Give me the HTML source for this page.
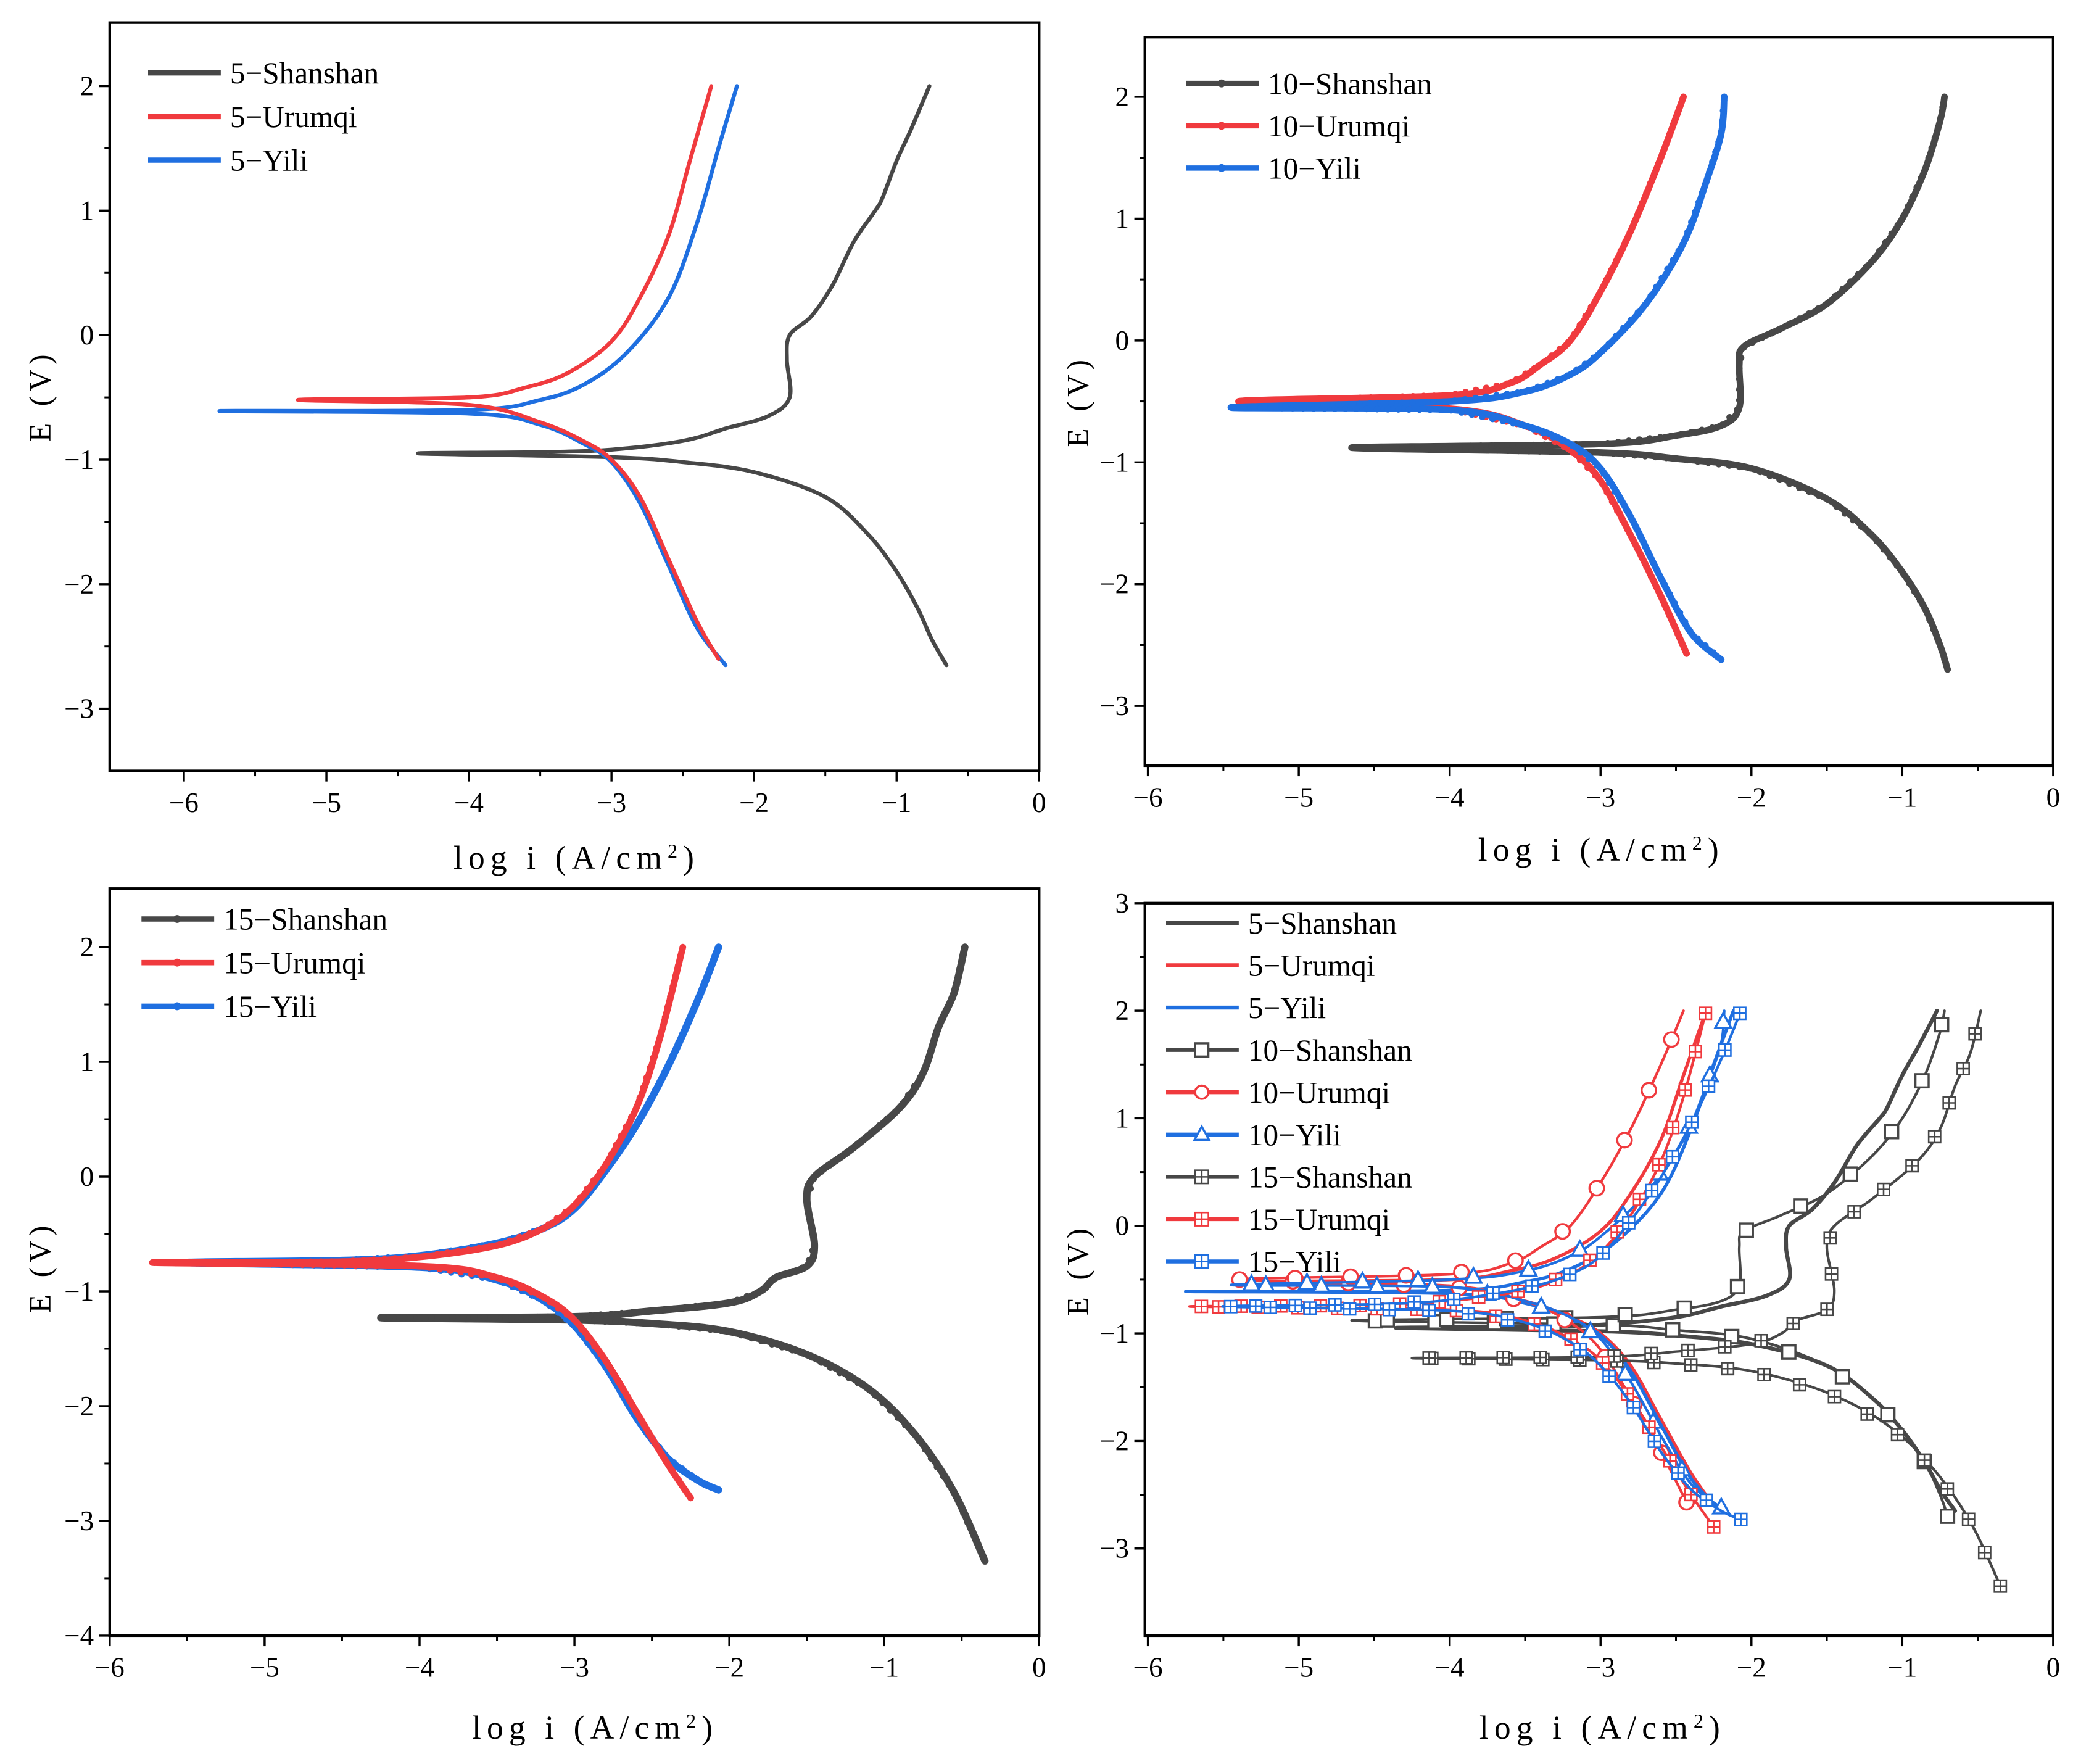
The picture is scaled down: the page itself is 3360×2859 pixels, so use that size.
<!DOCTYPE html>
<html><head><meta charset="utf-8"><style>html,body{margin:0;padding:0;background:#fff}svg{display:block}</style></head>
<body>
<svg id="fig" xmlns="http://www.w3.org/2000/svg" width="3360" height="2859" viewBox="0 0 1568 1334" font-family="Liberation Serif, serif"></svg>
<script>
// ---- data: each series as logi array and E array (cathodic end -> Ecorr -> anodic end)
const s5ShanX=[-0.65,-0.75,-0.85,-1,-1.2,-1.5,-2,-2.5,-3,-4.35,-3.5,-3,-2.5,-2.2,-1.9,-1.75,-1.77,-1.75,-1.6,-1.45,-1.3,-1.15,-1.1,-1.0,-0.9,-0.77];
const s5ShanE=[-2.65,-2.45,-2.2,-1.9,-1.6,-1.3,-1.1,-1.02,-0.98,-0.95,-0.94,-0.92,-0.85,-0.75,-0.65,-0.5,-0.2,0,0.15,0.4,0.75,1.0,1.1,1.4,1.65,2.0];
const s5UruX=[-2.25,-2.4,-2.6,-2.8,-3,-3.2,-3.5,-4,-5.2,-4,-3.6,-3.3,-3,-2.8,-2.6,-2.45,-2.3];
const s5UruE=[-2.6,-2.3,-1.8,-1.3,-1.0,-0.85,-0.7,-0.56,-0.52,-0.5,-0.42,-0.3,-0.05,0.3,0.8,1.4,2.0];
const s5YiliX=[-2.2,-2.4,-2.6,-2.8,-3,-3.2,-3.5,-4,-5.75,-4,-3.5,-3.2,-2.9,-2.6,-2.4,-2.25,-2.12];
const s5YiliE=[-2.65,-2.35,-1.85,-1.35,-1.02,-0.87,-0.72,-0.63,-0.61,-0.6,-0.52,-0.4,-0.15,0.3,0.9,1.5,2.0];
const s10ShanX=[-0.7,-0.75,-0.85,-1,-1.2,-1.5,-2,-2.5,-3,-4.65,-3,-2.5,-2.2,-2.08,-2.08,-2.05,-1.8,-1.5,-1.2,-1,-0.85,-0.75,-0.72];
const s10ShanE=[-2.7,-2.5,-2.2,-1.9,-1.6,-1.3,-1.05,-0.97,-0.92,-0.88,-0.85,-0.78,-0.7,-0.55,-0.2,-0.05,0.1,0.3,0.65,1.0,1.4,1.8,2.0];
const s10UruX=[-2.43,-2.6,-2.8,-3,-3.2,-3.5,-4,-5.4,-4,-3.6,-3.4,-3.2,-3,-2.8,-2.6,-2.45];
const s10UruE=[-2.57,-2.1,-1.6,-1.15,-0.9,-0.7,-0.56,-0.5,-0.45,-0.35,-0.2,0.0,0.4,0.9,1.5,2.0];
const s10YiliX=[-2.2,-2.4,-2.6,-2.8,-3,-3.2,-3.5,-4,-5.45,-4,-3.5,-3.2,-3,-2.7,-2.45,-2.3,-2.2,-2.18];
const s10YiliE=[-2.62,-2.4,-1.95,-1.45,-1.05,-0.85,-0.7,-0.57,-0.55,-0.5,-0.42,-0.28,-0.1,0.3,0.8,1.3,1.7,2.0];
const s15ShanX=[-0.35,-0.55,-0.8,-1.1,-1.5,-2,-2.5,-3,-4.25,-3,-2.5,-2,-1.8,-1.7,-1.5,-1.45,-1.5,-1.45,-1.2,-0.9,-0.75,-0.65,-0.55,-0.48];
const s15ShanE=[-3.35,-2.75,-2.25,-1.85,-1.55,-1.35,-1.28,-1.25,-1.23,-1.22,-1.17,-1.1,-1.0,-0.88,-0.78,-0.6,-0.2,0,0.25,0.6,0.9,1.3,1.6,2.0];
const s15UruX=[-2.25,-2.4,-2.6,-2.8,-3,-3.2,-3.5,-4,-5.72,-4.5,-4,-3.5,-3.2,-3,-2.8,-2.6,-2.45,-2.3];
const s15UruE=[-2.8,-2.5,-2.05,-1.6,-1.25,-1.05,-0.88,-0.78,-0.75,-0.74,-0.7,-0.6,-0.45,-0.25,0.1,0.6,1.2,2.0];
const s15YiliX=[-2.07,-2.2,-2.4,-2.6,-2.8,-3,-3.2,-3.5,-4,-5.5,-4.5,-4,-3.5,-3.2,-3,-2.8,-2.6,-2.4,-2.2,-2.07];
const s15YiliE=[-2.73,-2.65,-2.45,-2.1,-1.65,-1.3,-1.08,-0.9,-0.79,-0.75,-0.73,-0.69,-0.58,-0.45,-0.28,0.05,0.45,0.95,1.55,2.0];
const xTicks=[-6,-5,-4,-3,-2,-1,0];
const yTicksA=[-3,-2,-1,0,1,2];
const yTicksC=[-4,-3,-2,-1,0,1,2];
const yTicksD=[-3,-2,-1,0,1,2,3];
const names5=['5-Shanshan','5-Urumqi','5-Yili'];
const names10=['10-Shanshan','10-Urumqi','10-Yili'];
const names15=['15-Shanshan','15-Urumqi','15-Yili'];

const GREY='#474747',RED='#f03a3e',BLUE='#1f6fe0';
const COLORS=[GREY,RED,BLUE];
const svg=document.getElementById('fig');
const NS='http://www.w3.org/2000/svg';
function mk(tag,attrs,parent){const e=document.createElementNS(NS,tag);for(const k in attrs)e.setAttribute(k,attrs[k]);(parent||svg).appendChild(e);return e;}

const panels=[
 {id:'a',x0:83,x1:786,y0:17,y1:583,xmin:-6.52,xmax:0,ymin:-3.5,ymax:2.51,yt:yTicksA,ylx:30,ylc:301,xlc:434,xly:657},
 {id:'b',x0:866,x1:1553,y0:28,y1:579,xmin:-6.02,xmax:0,ymin:-3.49,ymax:2.49,yt:yTicksA,ylx:815,ylc:305,xlc:1209,xly:651},
 {id:'c',x0:83,x1:786,y0:672,y1:1237,xmin:-6,xmax:0,ymin:-4,ymax:2.51,yt:yTicksC,ylx:30,ylc:960,xlc:448,xly:1315},
 {id:'d',x0:866,x1:1553,y0:683,y1:1237,xmin:-6.02,xmax:0,ymin:-3.81,ymax:3,yt:yTicksD,ylx:815,ylc:962,xlc:1210,xly:1315}
];
function sx(p,v){return p.x0+(v-p.xmin)/(p.xmax-p.xmin)*(p.x1-p.x0);}
function sy(p,v){return p.y1-(v-p.ymin)/(p.ymax-p.ymin)*(p.y1-p.y0);}

function drawAxes(p){
  const g=mk('g',{});
  
  
  const fr=mk('rect',{x:p.x0,y:p.y0,width:p.x1-p.x0,height:p.y1-p.y0,fill:'none',stroke:'#000','stroke-width':2},g);
  
  
  xTicks.forEach((t,i)=>{
    const x=sx(p,t);
    mk('line',{x1:x,y1:p.y1,x2:x,y2:p.y1+8,stroke:'#000','stroke-width':1.6},g);
    if(i<xTicks.length-1){const xm=sx(p,t+0.5);mk('line',{x1:xm,y1:p.y1,x2:xm,y2:p.y1+4,stroke:'#000','stroke-width':1.4},g);}
    const tx=mk('text',{x:x,y:p.y1+31,'font-size':21,'text-anchor':'middle'},g);tx.textContent=(t<0?'\u2212':'')+Math.abs(t);
    
    
  });
  p.yt.forEach((t,i)=>{
    const y=sy(p,t);
    mk('line',{x1:p.x0-8,y1:y,x2:p.x0,y2:y,stroke:'#000','stroke-width':1.6},g);
    if(i<p.yt.length-1){const ym=sy(p,t+0.5);mk('line',{x1:p.x0-4,y1:ym,x2:p.x0,y2:ym,stroke:'#000','stroke-width':1.4},g);}
    const tx=mk('text',{x:p.x0-12,y:y+7,'font-size':21,'text-anchor':'end'},g);tx.textContent=(t<0?'\u2212':'')+Math.abs(t);
    
    
  });
  const yl=mk('text',{x:p.ylx+8,y:p.ylc,'font-size':23,'text-anchor':'middle',textLength:66,lengthAdjust:'spacing',transform:`rotate(-90 ${p.ylx+8} ${p.ylc})`},g);
  yl.textContent='E (V)';
  
  
  const xl=mk('text',{x:p.xlc,y:p.xly,'font-size':25,'text-anchor':'middle',textLength:182,lengthAdjust:'spacing'},g);
  xl.innerHTML='log i (A/cm<tspan baseline-shift="super" font-size="15">2</tspan>)';
  
  
  return g;
}

function pts(p,X,E){return X.map((v,i)=>[sx(p,v),sy(p,E[i])]);}
function smoothPath(P){let d='M'+P[0][0].toFixed(1)+','+P[0][1].toFixed(1);
  for(let i=0;i<P.length-1;i++){const p0=P[i-1]||P[i],p1=P[i],p2=P[i+1],p3=P[i+2]||p2;
    const c1=[p1[0]+(p2[0]-p0[0])/6,p1[1]+(p2[1]-p0[1])/6],c2=[p2[0]-(p3[0]-p1[0])/6,p2[1]-(p3[1]-p1[1])/6];
    d+=`C${c1[0].toFixed(1)},${c1[1].toFixed(1)} ${c2[0].toFixed(1)},${c2[1].toFixed(1)} ${p2[0].toFixed(1)},${p2[1].toFixed(1)}`;}
  return d;}
function resample(P,step){const out=[P[0]];let acc=0;
  for(let i=1;i<P.length;i++){let a=P[i-1],b=P[i];let L=Math.hypot(b[0]-a[0],b[1]-a[1]);let t=0;
    while(acc+L*(1-t)>=step){const need=step-acc;t+=need/L;out.push([a[0]+(b[0]-a[0])*t,a[1]+(b[1]-a[1])*t]);acc=0;}
    acc+=L*(1-t);}
  return out;}
function marker(g,type,x,y,c,s){
  if(type==='square'){mk('rect',{x:x-s,y:y-s,width:2*s,height:2*s,fill:'#fff',stroke:c,'stroke-width':1.6},g);}
  else if(type==='circle'){mk('circle',{cx:x,cy:y,r:s,fill:'#fff',stroke:c,'stroke-width':1.6},g);}
  else if(type==='tri'){mk('polygon',{points:`${x},${y-s*1.2} ${x-s*1.1},${y+s*0.8} ${x+s*1.1},${y+s*0.8}`,fill:'#fff',stroke:c,'stroke-width':1.6},g);}
  else if(type==='xsq'){mk('rect',{x:x-s,y:y-s,width:2*s,height:2*s,fill:'#fff',stroke:c,'stroke-width':1.2},g);
    mk('line',{x1:x,y1:y-s,x2:x,y2:y+s,stroke:c,'stroke-width':1.2},g);mk('line',{x1:x-s,y1:y,x2:x+s,y2:y,stroke:c,'stroke-width':1.2},g);}
  else if(type==='dot'){mk('circle',{cx:x,cy:y,r:s,fill:c},g);}
}
function series(p,X,E,color,width,name,mtype,mstep,msize){
  const g=mk('g',{});
  
  
  const P=pts(p,X,E);
  mk('path',{d:smoothPath(P),fill:'none',stroke:color,'stroke-width':width,'stroke-linejoin':'round','stroke-linecap':'round'},g);
  if(mtype){resample(P,mstep).forEach(q=>marker(g,mtype,q[0],q[1],color,msize));}
  return g;
}
function legend(x,y,dy,names,colors,mtypes,width,fs){
  const g=mk('g',{});
  
  
  names.forEach((n,i)=>{
    const e=mk('g',{},g);
    
    
    const yy=y+i*dy;
    mk('line',{x1:x,y1:yy,x2:x+55,y2:yy,stroke:colors[i],'stroke-width':width},e);
    if(mtypes[i])marker(e,mtypes[i],x+27,yy,colors[i],mtypes[i]==='dot'?3:5);
    const t=mk('text',{x:x+62,y:yy+8,'font-size':fs},e);t.textContent=n.replace('-','\u2212');
  });
}
panels.forEach(drawAxes);
const [pa,pb,pc,pd]=panels;
// panel a
series(pa,s5ShanX,s5ShanE,GREY,3,'5-shanshan-curve');
series(pa,s5YiliX,s5YiliE,BLUE,3,'5-yili-curve');
series(pa,s5UruX,s5UruE,RED,3,'5-urumqi-curve');
legend(112,55,33,names5,COLORS,[null,null,null],4,23);
// panel b
series(pb,s10ShanX,s10ShanE,GREY,5,'10-shanshan-curve','dot',8,2.5);
series(pb,s10UruX,s10UruE,RED,5,'10-urumqi-curve','dot',8,2.5);
series(pb,s10YiliX,s10YiliE,BLUE,5,'10-yili-curve','dot',8,2.5);
legend(897,63,32,names10,COLORS,['dot','dot','dot'],4,23);
// panel c
series(pc,s15ShanX,s15ShanE,GREY,5.5,'15-shanshan-curve','dot',8,2.5);
series(pc,s15YiliX,s15YiliE,BLUE,5.5,'15-yili-curve','dot',8,2.5);
series(pc,s15UruX,s15UruE,RED,5,'15-urumqi-curve','dot',8,2.5);
legend(107,695,33,names15,COLORS,['dot','dot','dot'],4,23);
// panel d
series(pd,s5ShanX,s5ShanE,GREY,3,'5-shanshan-curve');
series(pd,s5UruX,s5UruE,RED,2.5,'5-urumqi-curve');
series(pd,s5YiliX,s5YiliE,BLUE,2.5,'5-yili-curve');
series(pd,s10ShanX,s10ShanE,GREY,2,'10-shanshan-curve','square',45,5);
series(pd,s10UruX,s10UruE,RED,2,'10-urumqi-curve','circle',42,5.5);
series(pd,s10YiliX,s10YiliE,BLUE,2,'10-yili-curve','tri',42,5.5);
series(pd,s15ShanX,s15ShanE,GREY,2,'15-shanshan-curve','xsq',28,4.5);
series(pd,s15UruX,s15UruE,RED,2,'15-urumqi-curve','xsq',30,4.5);
series(pd,s15YiliX,s15YiliE,BLUE,2,'15-yili-curve','xsq',30,4.5);
legend(882,698,32,names5.concat(names10,names15),[GREY,RED,BLUE,GREY,RED,BLUE,GREY,RED,BLUE],[null,null,null,'square','circle','tri','xsq','xsq','xsq'],3,23);
</script>
</body></html>
